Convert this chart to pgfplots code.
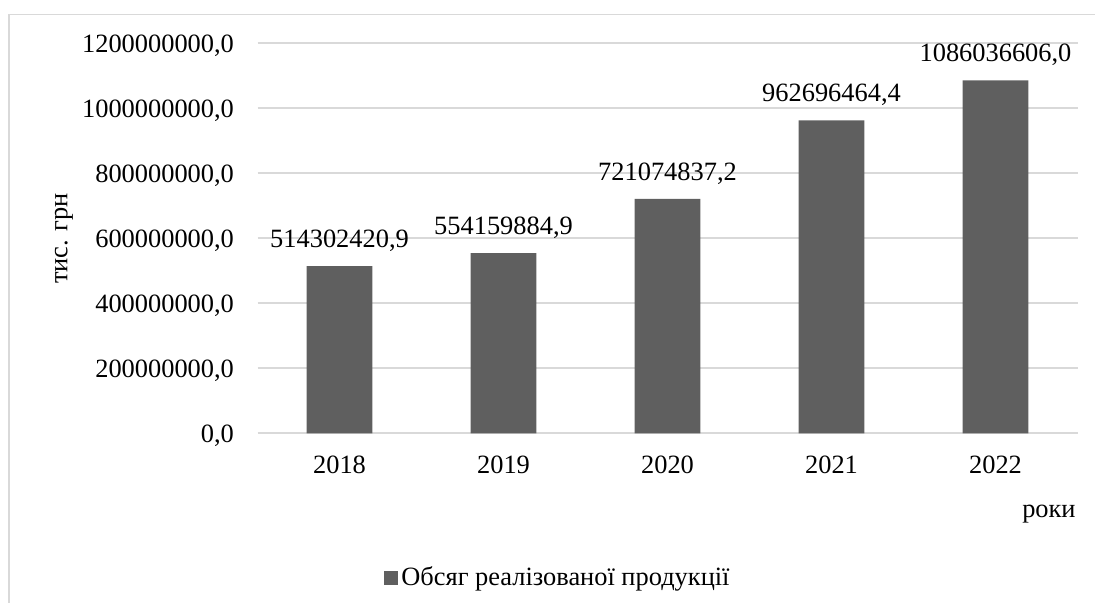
\documentclass[border=0pt]{standalone}
\usepackage{pgfplots}
\usepackage{pgfplotstable}
\pgfplotsset{compat=1.18}
\usepackage{fontspec}
\setmainfont{Liberation Serif}
\definecolor{barcol}{HTML}{5F5F5F}
\definecolor{gridcol}{HTML}{D9D9D9}
\pgfplotstableread{
x y label
0 514302420.9 514302420,9
1 554159884.9 554159884,9
2 721074837.2 721074837,2
3 962696464.4 962696464,4
4 1086036606.0 1086036606,0
}\datatable
\begin{document}
\fontsize{13.2pt}{15.8pt}\selectfont
\begin{tikzpicture}
\useasboundingbox (0pt,0pt) rectangle (547.5pt,301.5pt);
\draw[gridcol, line width=0.6pt] (4.5pt,-5pt) -- (4.5pt,294.25pt) -- (560pt,294.25pt);
\begin{axis}[
  at={(128.75pt,84.85pt)}, anchor=south west,
  scale only axis, width=410pt, height=195pt,
  xmin=-0.5, xmax=4.5, ymin=0, ymax=1.2e9,
  xtick=data, xticklabels={2018,2019,2020,2021,2022},
  ytick={0,2e8,4e8,6e8,8e8,1e9,1.2e9},
  scaled y ticks=false,
  ymajorgrids, grid style={gridcol, line width=0.8pt},
  axis x line=bottom, axis y line=left,
  axis line style={draw=none},
  major tick length=0pt,
  ybar, bar width=0.4, bar shift=0pt,
  /pgf/number format/assume math mode=true,
  y tick label style={/pgf/number format/fixed, /pgf/number format/fixed zerofill,
    /pgf/number format/precision=1, /pgf/number format/use comma,
    /pgf/number format/1000 sep={}, xshift=-7.2pt, yshift=-1.4pt},
  x tick label style={yshift=-6.9pt},
  nodes near coords, point meta=explicit symbolic,
  nodes near coords style={yshift=2.75pt, text=black},
  legend style={at={(0.1543,-0.3708)}, anchor=west, draw=none, fill=none,
    inner sep=0pt, nodes={inner sep=1.5pt}},
]
\addplot[fill=barcol, draw=none,
  legend image code/.code={\path (0pt,-7.5pt); \fill[barcol] (0pt,-3.5pt) rectangle (7pt,3.5pt);}]
  table[x=x, y=y, meta=label]{\datatable};
\addlegendentry{Обсяг реалізованої продукції}
\end{axis}
\node[rotate=90] at (32pt,182.25pt) {тис. грн};
\node[anchor=base east, inner sep=0pt] at (538pt,42.5pt) {роки};
\end{tikzpicture}
\end{document}
